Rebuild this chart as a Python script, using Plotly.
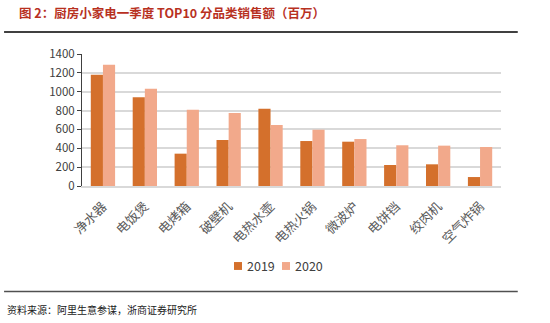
import plotly.graph_objects as go

categories = ["净水器", "电饭煲", "电烤箱", "破壁机", "电热水壶", "电热火锅", "微波炉", "电饼铛", "绞肉机", "空气炸锅"]
sales_2019 = [1180, 942, 343, 488, 820, 477, 470, 223, 230, 95]
sales_2020 = [1285, 1032, 809, 774, 647, 597, 498, 432, 428, 414]
y_ticks = [0, 200, 400, 600, 800, 1000, 1200, 1400]
series_names = ["2019", "2020"]
series_colors = ["#D4702C", "#F2A98B"]

font_family = "Noto Sans CJK SC, Noto Sans, sans-serif"

fig = go.Figure()
for name, vals, col in zip(series_names, [sales_2019, sales_2020], series_colors):
    fig.add_trace(go.Bar(name=name, x=categories, y=vals,
                         marker=dict(color=col, line=dict(width=0))))

fig.update_layout(
    width=550, height=323,
    margin=dict(l=82, r=49, t=54, b=137),
    paper_bgcolor="white", plot_bgcolor="white",
    barmode="group", bargap=0.42, bargroupgap=0,
    font=dict(family=font_family, color="#404040"),
    showlegend=False,
    xaxis=dict(tickangle=-45, tickfont=dict(size=13, color="#595959"),
               ticklabelstandoff=6,
               showline=True, linecolor="#D9D9D9", linewidth=1.5, ticks=""),
    yaxis=dict(range=[0, 1400], tickvals=y_ticks, tickfont=dict(size=11.5, color="#404040"),
               showgrid=True, gridcolor="#D9D9D9", gridwidth=1.5,
               showline=True, linecolor="#404040", linewidth=1,
               ticks="outside", ticklen=4, tickcolor="#404040", zeroline=False),
)

# manual compact legend
legend_x = [0.3628, 0.4773]
for lx, name, col in zip(legend_x, series_names, series_colors):
    fig.add_shape(type="rect", xref="paper", yref="paper", x0=lx, x1=lx + 0.0191,
                  y0=-0.636, y1=-0.576, fillcolor=col, line=dict(width=0))
    fig.add_annotation(text=name, xref="paper", yref="paper", x=lx + 0.026, y=-0.606,
                       xanchor="left", yanchor="middle", showarrow=False,
                       font=dict(size=12.5, color="#404040", family=font_family))

fig.add_annotation(text="<b>图 2：厨房小家电一季度 TOP10 分品类销售额（百万）</b>",
                   xref="paper", yref="paper", x=-0.155, y=1.0, xanchor="left", yanchor="bottom",
                   yshift=30, showarrow=False, font=dict(size=12.5, color="#B8311F", family=font_family))
fig.add_shape(type="line", xref="paper", yref="paper", x0=-0.186, x1=1.04, y0=1.167, y1=1.167,
              line=dict(color="#000000", width=1.5))
fig.add_shape(type="line", xref="paper", yref="paper", x0=-0.186, x1=1.04, y0=-0.80, y1=-0.80,
              line=dict(color="#505050", width=1.5))
fig.add_annotation(text="资料来源：阿里生意参谋，浙商证券研究所",
                   xref="paper", yref="paper", x=-0.183, y=-0.86, xanchor="left", yanchor="top",
                   showarrow=False, font=dict(size=10, color="#202020", family=font_family))

fig.write_html("out.html")
